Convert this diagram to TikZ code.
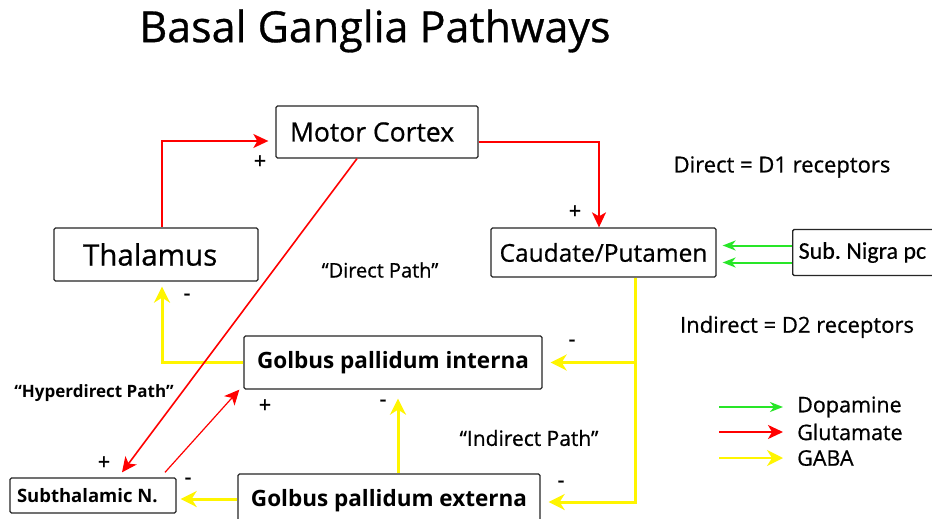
\documentclass[tikz,border=0pt]{standalone}
\usepackage{fontspec}
\setmainfont{Open Sans}
\newfontfamily\osr{Open Sans}[FakeBold=0.7]
\newfontfamily\carlito{Carlito}[FakeBold=0.5]
\newfontfamily\osb{Open Sans Bold}
\usetikzlibrary{arrows.meta}
\newcommand{\fsz}[1]{\fontsize{#1}{#1}\selectfont}
\definecolor{glured}{RGB}{255,0,0}
\definecolor{dopgreen}{RGB}{40,230,40}
\definecolor{gabayel}{RGB}{255,245,0}
\begin{document}
\frenchspacing
\begin{tikzpicture}[x=1pt,y=-1pt,
  box/.style={draw=black!85,line width=1.3pt,rounded corners=1.5pt,inner sep=0pt,text=black},
  glu/.style={draw=glured,line width=1.6pt,-{Stealth[length=15pt,width=14pt,inset=4pt]}},
  gaba/.style={draw=gabayel,line width=3pt,-{Stealth[length=16pt,width=16pt,inset=5pt]}},
  dop/.style={draw=dopgreen,line width=2pt,-{Stealth[length=13pt,width=10pt,inset=4pt]}},
  sign/.style={font=\osr\fsz{22},text=black,inner sep=0pt},
  lbl/.style={text=black,inner sep=0pt}
]
\useasboundingbox (0,0) rectangle (932,519);
\fill[white] (0,0) rectangle (932,519);

\node[lbl,font=\osr\fsz{43}] (title) at (375,31) {Basal Ganglia Pathways};

\node[box,minimum height=52,text width=174,inner xsep=14pt,align=flush left,font=\osr\fsz{26.5}] (MC) at (377,132) {Motor Cortex};
\node[box,minimum height=53,text width=146,inner xsep=29pt,align=flush left,font=\osr\fsz{29.5}] (TH) at (156,254.5) {Thalamus};
\node[box,minimum width=225,minimum height=49,font=\osr\fsz{24.5}] (CP) at (603.5,252.5) {Caudate/Putamen};
\node[box,minimum height=46,anchor=west,text width=140,inner xsep=6pt,align=flush left,font=\carlito\fsz{24}] (SN) at (792,252.5) {Sub. Nigra pc};
\node[box,minimum width=298,minimum height=53,font=\osb\fsz{22.5}] (GPi) at (393,362.5) {Golbus pallidum interna};
\node[box,minimum width=302,minimum height=54,font=\osb\fsz{22.5}] (GPe) at (389,501) {Golbus pallidum externa};
\node[box,minimum height=35,text width=152,inner xsep=7pt,align=flush left,font=\osb\fsz{18.5}] (STN) at (93,495.5) {Subthalamic N.};

\node[lbl,font=\osr\fsz{20}] (dp) at (380,270) {“Direct Path”};
\node[lbl,font=\osb\fsz{17}] (hp) at (94,393) {“Hyperdirect Path”};
\node[lbl,font=\osr\fsz{21}] (ip) at (529,438) {“Indirect Path”};
\node[lbl,font=\osr\fsz{22}] (d1) at (782,167) {Direct = D1 receptors};
\node[lbl,font=\osr\fsz{22}] (d2) at (797,327) {Indirect = D2 receptors};

\node[lbl,anchor=west,font=\osr\fsz{21.5}] (lg1) at (797,407) {Dopamine};
\node[lbl,anchor=west,font=\osr\fsz{21.5}] (lg2) at (797,432) {Glutamate};
\node[lbl,anchor=west,font=\osr\fsz{21.5}] (lg3) at (797,458) {GABA};
\coordinate (ld) at (719,407);
\coordinate (lr) at (719,432);
\coordinate (ly) at (719,458);
\draw[dop] (ld) -- ([xshift=-14pt]lg1.west);
\draw[glu,line width=2pt] (lr) -- ([xshift=-14pt]lg2.west);
\draw[gaba,line width=2pt] (ly) -- ([xshift=-14pt]lg3.west);

\node[sign] (s1) at (260,162) {+};
\node[sign] (s2) at (575,212) {+};
\node[sign] (s3) at (104,463) {+};
\node[sign] (s4) at (265,406) {+};
\node[sign] (m1) at (187,297) {-};
\node[sign] (m2) at (572,343) {-};
\node[sign] (m3) at (561,484) {-};
\node[sign] (m4) at (383,403) {-};
\node[sign] (m5) at (188,481) {-};

\draw[glu] ([xshift=6pt]TH.north) |- ([shift={(-7,9)}]MC.west);
\draw[glu] ([shift={(0,10)}]MC.east) -| ([xshift=-4.5pt]CP.north);
\draw[dop] ([shift={(0,-7)}]SN.west) -- ([shift={(6,-7)}]CP.east);
\draw[dop] ([shift={(0,10)}]SN.west) -- ([shift={(6,10)}]CP.east);
\coordinate (trunk) at ([xshift=31.5pt]CP.south);
\draw[gaba] (trunk) |- ([shift={(8,1)}]GPe.east);
\draw[gaba] (trunk |- GPi.east) -- ([xshift=8pt]GPi.east);
\draw[gaba] (GPi.west) -| ([shift={(6,5)}]TH.south);
\draw[gaba] ([xshift=9pt]GPe.north) -- ([shift={(5,9)}]GPi.south);
\draw[gaba] ([shift={(0,-2)}]GPe.west) -- ([shift={(4,3.5)}]STN.east);
\draw[glu] ([xshift=-20pt]MC.south) -- ([shift={(29,-5)}]STN.north);
\draw[glu,line width=1.2pt] ([shift={(72,-5)}]STN.north) -- ([shift={(-4,0)}]GPi.south west);
\end{tikzpicture}
\end{document}
